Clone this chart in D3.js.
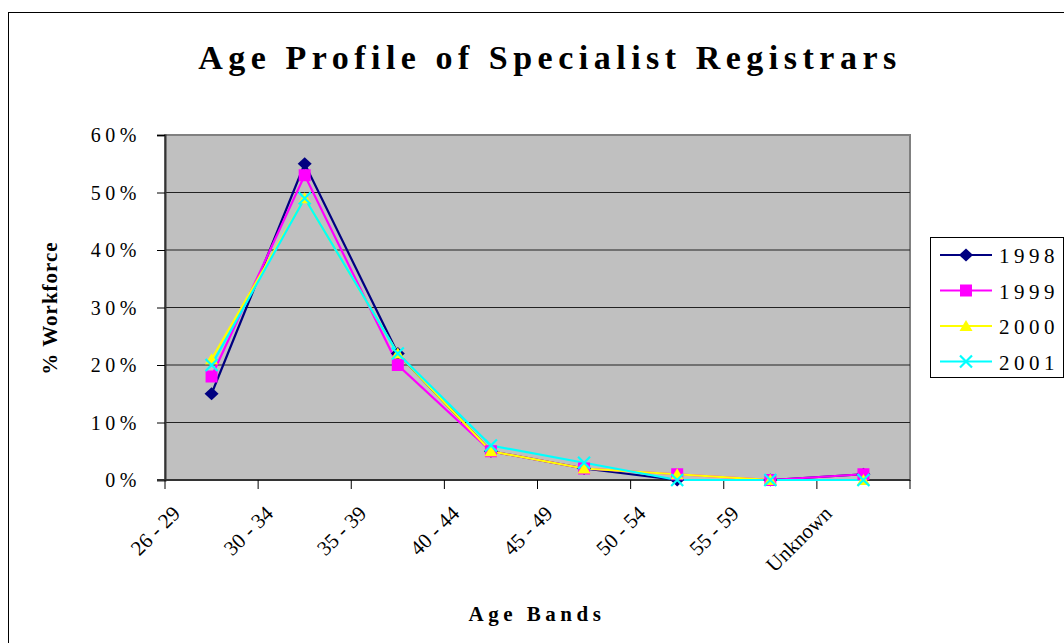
<!DOCTYPE html>
<html><head><meta charset="utf-8">
<script src="https://cdn.jsdelivr.net/npm/d3@7"></script>
<style>body{margin:0;background:#fff}svg{display:block}</style>
</head><body>
<svg id="c" width="1064" height="643" style="font-family:'Liberation Serif'"></svg>
<script>
const categories = ["26 - 29","30 - 34","35 - 39","40 - 44","45 - 49","50 - 54","55 - 59","Unknown"];
const years = ["1998","1999","2000","2001"];
const v1998 = [15,55,22,5,2,0,0,1];
const v1999 = [18,53,20,5,2,1,0,1];
const v2000 = [21,49,22,5,2,1,0,0];
const v2001 = [20,49,22,6,3,0,0,0];
const yTicks = [0,10,20,30,40,50,60];
const colors = ["#000080","#FF00FF","#FFFF00","#00FFFF"];
const symbols = ["diamond","square","triangle","cross"];
const seriesVals = [v1998,v1999,v2000,v2001];
const FF = "'Liberation Serif'";

const svg = d3.select("#c");
const L=165,R=910,T=135,B=480;
svg.append("rect").attr("x",8.5).attr("y",12.5).attr("width",1070).attr("height",640).attr("fill","none").attr("stroke","#000").attr("stroke-width",1);

const x = d3.scaleBand().domain(categories).range([L,R]);
const y = d3.scaleLinear().domain([0,60]).range([B,T]);

svg.append("rect").attr("x",L).attr("y",T).attr("width",R-L).attr("height",B-T).attr("fill","#C0C0C0").attr("stroke","#808080").attr("stroke-width",2);
svg.append("g").selectAll("line").data(yTicks.filter(d=>d>0&&d<60)).join("line")
  .attr("x1",L).attr("x2",R).attr("y1",d=>y(d)).attr("y2",d=>y(d)).attr("stroke","#222").attr("stroke-width",1);

const ya = svg.append("g").attr("transform",`translate(${L},0)`).call(d3.axisLeft(y).tickValues(yTicks).tickSize(8).tickPadding(16).tickFormat(d=>d+"%"));
ya.attr("font-family",null).attr("font-size",null);
ya.select(".domain").attr("stroke","#333").attr("stroke-width",2);
ya.selectAll(".tick line").attr("stroke","#000");
ya.selectAll("text").style("font-family",FF).style("font-size","20px").attr("fill","#000").attr("letter-spacing","4.5px").attr("dy","0.34em");

svg.append("line").attr("x1",L-8).attr("x2",R).attr("y1",B).attr("y2",B).attr("stroke","#333").attr("stroke-width",2);
const edges = categories.map(c=>x(c)).concat([R]);
svg.append("g").selectAll("line").data(edges).join("line")
  .attr("x1",d=>d).attr("x2",d=>d).attr("y1",B).attr("y2",B+9).attr("stroke","#000");
svg.append("g").selectAll("text").data(categories).join("text")
  .attr("transform",d=>`translate(${x(d)+x.bandwidth()/2-41},${B+24}) rotate(-45)`)
  .attr("text-anchor","end").attr("dominant-baseline","hanging").style("font-family",FF).style("font-size","21px").text(d=>d);

const line = d3.line().x((d,i)=>x(categories[i])+x.bandwidth()/2).y(d=>y(d));
seriesVals.forEach((vals,si)=>{
  svg.append("path").datum(vals).attr("d",line).attr("fill","none").attr("stroke",colors[si]).attr("stroke-width",2.2);
});
function marker(g,si,cx,cy){
  const c=colors[si];
  if(symbols[si]==="diamond"){
    g.append("path").attr("d",`M${cx},${cy-6.5}L${cx+7},${cy}L${cx},${cy+6.5}L${cx-7},${cy}Z`).attr("fill",c);
  } else if(symbols[si]==="square"){
    g.append("rect").attr("x",cx-6).attr("y",cy-6).attr("width",12).attr("height",12).attr("fill",c);
  } else if(symbols[si]==="triangle"){
    g.append("path").attr("d",`M${cx},${cy-6}L${cx+6.5},${cy+5}L${cx-6.5},${cy+5}Z`).attr("fill",c);
  } else {
    g.append("path").attr("d",`M${cx-6},${cy-6}L${cx+6},${cy+6}M${cx+6},${cy-6}L${cx-6},${cy+6}`).attr("stroke",c).attr("stroke-width",2.2);
  }
}
seriesVals.forEach((vals,si)=>{
  const g=svg.append("g");
  vals.forEach((v,i)=>marker(g,si,x(categories[i])+x.bandwidth()/2,y(v)));
});

svg.append("text").attr("x",550).attr("y",69).attr("text-anchor","middle").style("font-family",FF).style("font-size","34px").style("font-weight","bold").attr("letter-spacing","5.5px").text("Age Profile of Specialist Registrars");
svg.append("text").attr("x",537).attr("y",621).attr("text-anchor","middle").style("font-family",FF).style("font-size","21px").style("font-weight","bold").attr("letter-spacing","4.5px").text("Age Bands");
svg.append("text").attr("transform","translate(57,308) rotate(-90)").attr("text-anchor","middle").style("font-family",FF).style("font-size","21px").style("font-weight","bold").attr("letter-spacing","1px").text("% Workforce");

svg.append("rect").attr("x",930.5).attr("y",237.5).attr("width",133).attr("height",140).attr("fill","#fff").attr("stroke","#000");
years.forEach((yr,i)=>{
  const cy=255+i*35.5;
  svg.append("line").attr("x1",940).attr("x2",992).attr("y1",cy).attr("y2",cy).attr("stroke",colors[i]).attr("stroke-width",2.2);
  marker(svg,i,966,cy);
  svg.append("text").attr("x",999).attr("y",cy+8).style("font-family",FF).style("font-size","21px").attr("letter-spacing","4.5px").text(yr);
});
</script>
</body></html>
